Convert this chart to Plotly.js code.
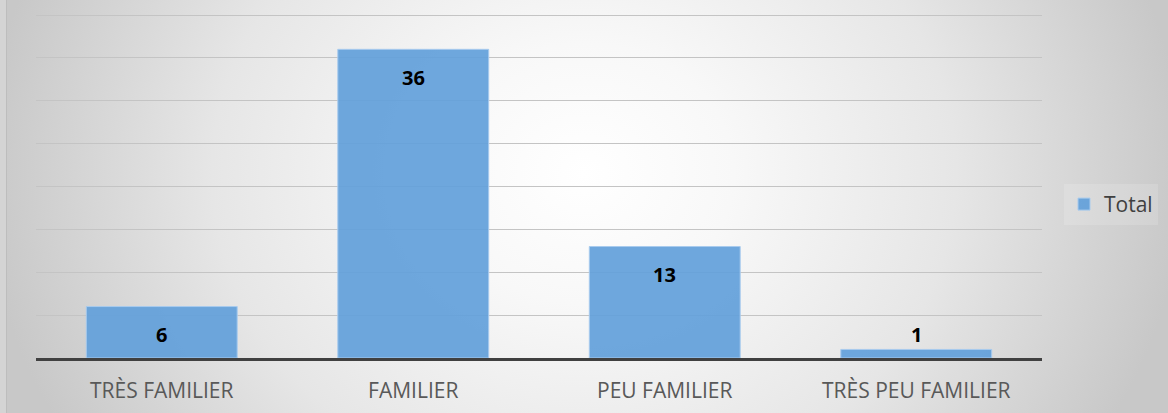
<!DOCTYPE html>
<html>
<head>
<meta charset="utf-8">
<script src="https://cdn.plot.ly/plotly-3.0.1.min.js"></script>
<style>
  html, body { margin: 0; padding: 0; }
  body { width: 1168px; height: 413px; overflow: hidden; }
  #wrap {
    position: relative; width: 1168px; height: 413px;
    background: radial-gradient(ellipse 600px 520px at 50% 42%, #ffffff 0%, #f8f8f8 25%, #e6e6e6 62%, #c8c8c8 100%);
  }
  #edge { position: absolute; left: 0; top: 0; width: 6px; height: 413px; background: #d4d4d4; border-right: 1px solid #bdbdbd; }
  #chart { position: absolute; left: 0; top: 0; width: 1168px; height: 413px; }
</style>
</head>
<body>
<div id="wrap"><div id="edge"></div><div id="chart"></div></div>
<script>
const categories = ["TRÈS FAMILIER", "FAMILIER", "PEU FAMILIER", "TRÈS PEU FAMILIER"];
const values = [6, 36, 13, 1];
const seriesName = "Total";

const annotations = categories.map((c, i) => ({
  x: c, y: values[i], xref: 'x', yref: 'y',
  text: String(values[i]), showarrow: false,
  yshift: values[i] >= 3 ? -28 : 15,
  font: { family: 'Open Sans, sans-serif', size: 20, color: '#000000', weight: 'bold' }
}));

const trace = {
  type: 'bar', x: categories, y: values, name: seriesName,
  marker: { color: 'rgba(98,160,218,0.92)', line: { color: '#a8cbee', width: 1 } },
  showlegend: true, hoverinfo: 'x+y'
};

const layout = {
  width: 1168, height: 413,
  margin: { l: 36, r: 126, t: 14, b: 55 },
  paper_bgcolor: 'rgba(0,0,0,0)', plot_bgcolor: 'rgba(0,0,0,0)',
  bargap: 0.4,
  showlegend: true,
  legend: {
    xref: 'container', yref: 'container',
    x: 1064 / 1168, xanchor: 'left', y: 0.505, yanchor: 'middle',
    bgcolor: 'rgba(255,255,255,0.15)',
    font: { family: 'Open Sans, sans-serif', size: 21, color: '#404040' },
    itemwidth: 30
  },
  xaxis: {
    type: 'category',
    showline: true, linecolor: '#404040', linewidth: 3,
    ticks: '', showgrid: false,
    tickfont: { family: 'Open Sans, sans-serif', size: 21, color: '#595959' },
    ticklabelstandoff: 12
  },
  yaxis: {
    range: [0, 40.12], dtick: 5, showticklabels: false,
    showgrid: true, gridcolor: '#c4c4c4', gridwidth: 1,
    zeroline: false, showline: false, ticks: ''
  },
  annotations: annotations
};

Plotly.newPlot('chart', [trace], layout, { displayModeBar: false, staticPlot: true });
</script>
</body>
</html>
